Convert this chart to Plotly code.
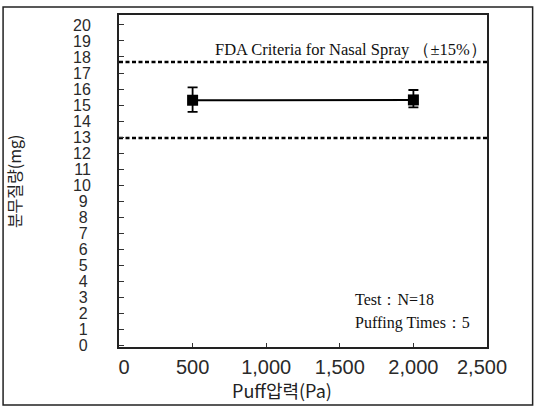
import plotly.graph_objects as go

# Data
pressure = [500, 2000]
spray_mass = [15.3, 15.32]
err_plus = [0.8, 0.62]
err_minus = [0.72, 0.46]
upper_limit = 17.68
lower_limit = 12.94
x_ticks = [0, 500, 1000, 1500, 2000, 2500]
x_ticktext = ["\u20020", "500", "1,000", "1,500", "2,000", "2,500\u2002"]
y_ticks = list(range(0, 21))
y_ticktext = [str(v) + ("\u2009" if v < 10 else "") for v in y_ticks]

fig = go.Figure()

# FDA criteria lines
for lim in [upper_limit, lower_limit]:
    fig.add_trace(go.Scatter(
        x=[0, 2500], y=[lim, lim], mode="lines",
        line=dict(color="black", width=2.5, dash="4px,2.5px"),
        hoverinfo="skip", showlegend=False))

fig.add_trace(go.Scatter(
    x=pressure, y=spray_mass, mode="lines+markers",
    line=dict(color="black", width=2),
    marker=dict(symbol="square", size=11, color="black"),
    error_y=dict(type="data", symmetric=False, array=err_plus, arrayminus=err_minus,
                 color="black", thickness=1.8, width=5),
    showlegend=False))

fig.update_layout(
    width=535, height=407, autosize=False,
    margin=dict(l=119, r=48, t=15, b=60),
    paper_bgcolor="white", plot_bgcolor="white",
    font=dict(family="Liberation Sans Narrow, Liberation Sans, sans-serif", color="#222"),
    xaxis=dict(range=[0, 2500], tickvals=x_ticks, ticktext=x_ticktext,
               ticks="inside", ticklen=4, tickcolor="#333", tickwidth=1,
               showgrid=False, zeroline=False, showline=True, linecolor="#222",
               linewidth=2, mirror=True, tickfont=dict(size=20, color="#2a2a2a"),
               ticklabelstandoff=1),
    yaxis=dict(range=[-0.1, 20.62], tickvals=y_ticks, ticktext=y_ticktext,
               ticks="inside", ticklen=5, tickcolor="#333", tickwidth=1,
               showgrid=False, zeroline=False, showline=True, linecolor="#222",
               linewidth=2, mirror=True, tickfont=dict(size=16, color="#2a2a2a"),
               ticklabelstandoff=23),
    shapes=[dict(type="rect", xref="paper", yref="paper",
                 x0=-0.315, x1=1.124, y0=-0.175, y1=1.024,
                 line=dict(color="#222", width=1.5), fillcolor="rgba(0,0,0,0)", layer="below")],
    annotations=[
        dict(text="Puff압력(Pa)", xref="paper", yref="paper", x=0.443, y=-0.13,
             xanchor="center", yanchor="middle", showarrow=False,
             font=dict(family="Noto Sans CJK KR", size=18, color="#222")),
        dict(text="분무질량(mg)", xref="paper", yref="paper", x=-0.285, y=0.5,
             xanchor="center", yanchor="middle", textangle=-90, showarrow=False,
             font=dict(family="Noto Sans CJK KR", size=16, color="#222")),
        dict(text="FDA Criteria for Nasal Spray （±15%）", xref="paper", yref="paper",
             x=0.255, y=0.895, xanchor="left", yanchor="middle", showarrow=False,
             font=dict(family="Liberation Serif", size=16.5, color="#111")),
        dict(text="Test：N=18", xref="paper", yref="paper",
             x=0.636, y=0.142, xanchor="left", yanchor="middle", showarrow=False,
             font=dict(family="Liberation Serif", size=16, color="#111")),
        dict(text="Puffing Times：5", xref="paper", yref="paper",
             x=0.636, y=0.072, xanchor="left", yanchor="middle", showarrow=False,
             font=dict(family="Liberation Serif", size=16, color="#111")),
    ],
)

fig.write_html("out.html")
